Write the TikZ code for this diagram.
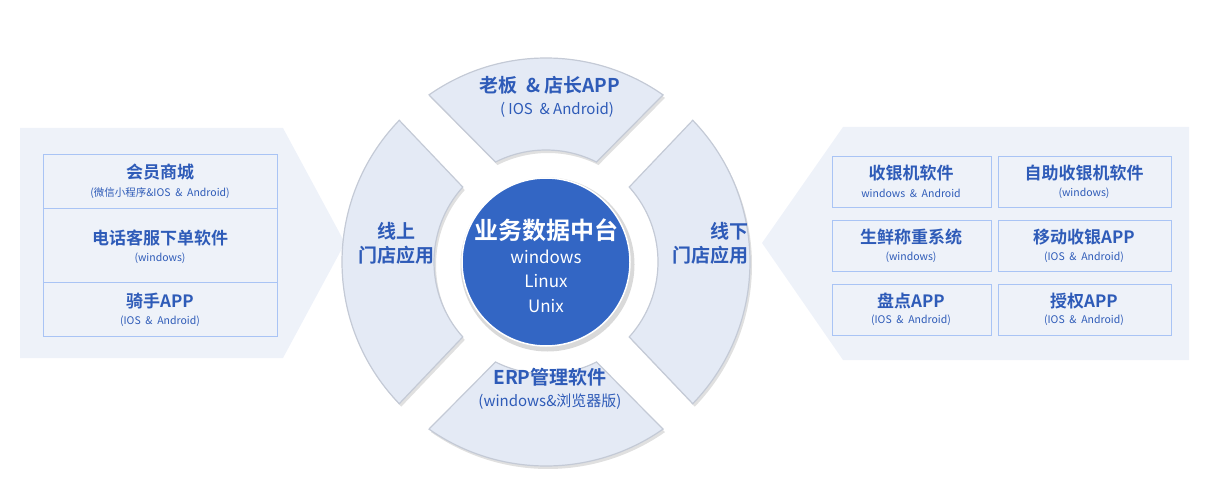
\documentclass[tikz,border=0pt]{standalone}
\usepackage{fontspec}
\setmainfont{Noto Sans CJK SC}
\newfontfamily\cjkb{Noto Sans CJK SC Bold}
\usetikzlibrary{positioning}
\definecolor{panelfill}{HTML}{EEF2F9}
\definecolor{boxline}{HTML}{A9C4F5}
\definecolor{labelblue}{HTML}{2E5BB8}
\definecolor{sectorfill}{HTML}{E4EAF5}
\definecolor{sectorline}{HTML}{C4CAD6}
\definecolor{corefill}{HTML}{3366C4}
\tikzset{
  appbox/.style={draw=boxline,line width=0.8pt,fill=panelfill,inner sep=0pt},
  apptitle/.style={text=labelblue,font=\cjkb\fontsize{17}{19}\selectfont},
  appsub/.style={text=labelblue,font=\fontsize{10.5}{12}\selectfont},
  ringtext/.style={text=labelblue,font=\cjkb\fontsize{19}{24}\selectfont,align=center},
  sector/.style={fill=sectorfill,draw=sectorline,line width=1.2pt}
}
\begin{document}
\begin{tikzpicture}[x=1pt,y=1pt]
\useasboundingbox (0,0) rectangle (1216,-492);
% side panels
\fill[panelfill] (20,-128) -- (283,-128) -- (345,-243) -- (283,-358) -- (20,-358) -- cycle;
\fill[panelfill] (762,-243) -- (843,-127) -- (1189,-127) -- (1189,-360) -- (843,-360) -- cycle;
% left boxes
\draw[appbox] (43,-154) rectangle (277,-336);
\draw[boxline,line width=0.8pt] (43,-208) -- (277,-208) (43,-282) -- (277,-282);
\node[apptitle] (vip) at (160,-172) {会员商城};
\node[appsub] (vipsub) at (160,-193) {(微信小程序\&IOS \ \& \ Android)};
\node[apptitle] (call) at (160,-238) {电话客服下单软件};
\node[appsub] (callsub) at (160,-258) {(windows)};
\node[apptitle] (rider) at (160,-301) {骑手APP};
\node[appsub] (ridersub) at (160,-321) {(IOS \ \& \ Android)};
% right boxes
\foreach \x/\w in {832/159,998/173}
  \foreach \y in {156,220,284}
    \draw[appbox] (\x,-\y) rectangle ++(\w,-51);
\node[apptitle] (pos) at (911,-173) {收银机软件};
\node[appsub] (possub) at (911,-193) {windows \ \& \ Android};
\node[apptitle] (self) at (1084,-173) {自助收银机软件};
\node[appsub] (selfsub) at (1084,-193) {(windows)};
\node[apptitle] (scale) at (911,-237) {生鲜称重系统};
\node[appsub] (scalesub) at (911,-257) {(windows)};
\node[apptitle] (mpos) at (1084,-237) {移动收银APP};
\node[appsub] (mpossub) at (1084,-257) {(IOS \ \& \ Android)};
\node[apptitle] (stock) at (911,-301) {盘点APP};
\node[appsub] (stocksub) at (911,-320) {(IOS \ \& \ Android)};
\node[apptitle] (auth) at (1084,-301) {授权APP};
\node[appsub] (authsub) at (1084,-320) {(IOS \ \& \ Android)};
% ring
\begin{scope}[shift={(546,-262)}]
\foreach \a/\o/\i in {0/44/42,90/35/26.8,180/44/42,270/35/26.8}{
  \fill[black!12] ([shift={(2,-3)}]\a-\o:204) arc[start angle=\a-\o,end angle=\a+\o,radius=204]
    -- ([shift={(2,-3)}]\a+\i:112) arc[start angle=\a+\i,end angle=\a-\i,radius=112] -- cycle;
  \path[sector] (\a-\o:204) arc[start angle=\a-\o,end angle=\a+\o,radius=204]
    -- (\a+\i:112) arc[start angle=\a+\i,end angle=\a-\i,radius=112] -- cycle;
}
\fill[black!15] (1.5,-2.5) circle (87);
\node[circle,fill=corefill,minimum size=168pt,draw=white,line width=1.5pt] (core) at (0,0) {};
\end{scope}
\node[text=white,font=\cjkb\fontsize{24}{28}\selectfont] (coretitle) at (546,-230) {业务数据中台};
\node[text=white,font=\fontsize{17}{24.5}\selectfont,align=center] (coreos) at (546,-281) {windows\\Linux\\Unix};
\node[ringtext] (boss) at (550,-85) {老板 \ \& 店长APP};
\node[text=labelblue,font=\fontsize{15}{18}\selectfont] (bosssub) at (557,-110) {( IOS \ \& Android)};
\node[ringtext] (online) at (396,-243) {线上\\门店应用};
\node[ringtext,align=right] (offline) at (710,-243) {线下\\门店应用};
\node[ringtext] (erp) at (550,-377) {ERP管理软件};
\node[text=labelblue,font=\fontsize{15}{18}\selectfont] (erpsub) at (550,-402) {(windows\&浏览器版)};
\end{tikzpicture}
\end{document}
